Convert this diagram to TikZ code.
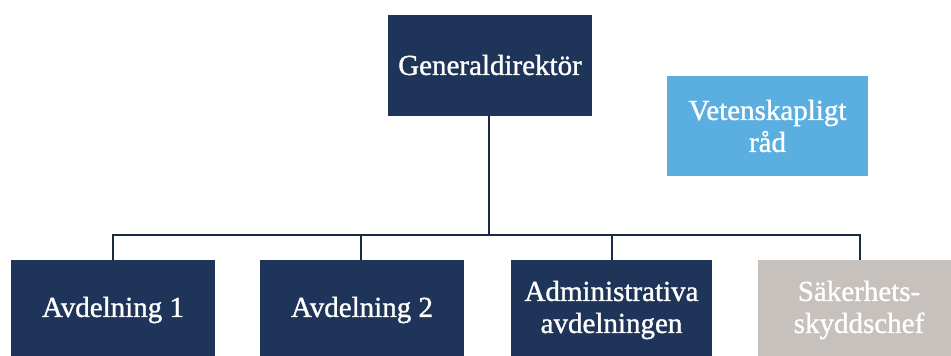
\documentclass[tikz,border=0pt]{standalone}
\usepackage{fontspec}
\setmainfont{Liberation Serif}
\newfontfamily\boxfont{Liberation Serif}[FakeBold=1.1]
\definecolor{navy}{HTML}{1F3459}
\definecolor{skyb}{HTML}{5AAEE0}
\definecolor{greyb}{HTML}{C6C1BD}
\definecolor{linec}{HTML}{1A2A44}
\begin{document}
\begin{tikzpicture}[x=1pt,y=-1pt,
  box/.style={draw=none,text=white,align=center,font=\boxfont\fontsize{29}{32}\selectfont,inner sep=0pt},
  conn/.style={draw=linec,line width=1.3pt}]
\useasboundingbox (0,0) rectangle (951,356);
\clip (0,0) rectangle (951,356);
\fill[white] (0,0) rectangle (951,356);
% boxes
\fill[navy] (388,15) rectangle (592,116);
\node[box] (gd) at (490,65) {Generaldirektör};
\fill[skyb] (667,76) rectangle (868,176);
\node[box] (vr) at (767.5,126) {Vetenskapligt\\råd};
\fill[navy] (11,260) rectangle (215,362);
\node[box] (a1) at (113,310) {Avdelning 1};
\fill[navy] (260,260) rectangle (464,362);
\node[box] (a2) at (362,310) {Avdelning 2};
\fill[navy] (511,260) rectangle (712,362);
\node[box] (ad) at (611.5,310) {Administrativa\\avdelningen};
\fill[greyb] (758,260) rectangle (960,362);
\node[box] (sk) at (859,310) {Säkerhets-\\skyddschef};
% connectors
\coordinate (gdb) at (489,116);
\coordinate (bus) at (489,235);
\coordinate (t1) at (113,260);
\coordinate (t2) at (361,260);
\coordinate (t3) at (612,260);
\coordinate (t4) at (860,260);
\draw[conn] (gdb) -- (bus);
\draw[conn] (t1) |- (bus) -| (t4);
\draw[conn] (t2) -- (t2 |- bus);
\draw[conn] (t3) -- (t3 |- bus);
\end{tikzpicture}
\end{document}
